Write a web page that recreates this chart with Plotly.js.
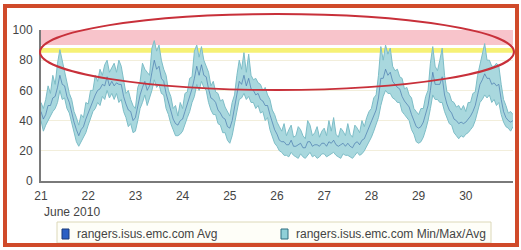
<!DOCTYPE html>
<html><head><meta charset="utf-8">
<script src="https://cdn.plot.ly/plotly-3.0.1.min.js"></script>
<style>html,body{margin:0;padding:0;background:#fff}#chart{width:521px;height:250px}</style>
</head><body><div id="chart"></div>
<script>
// ---- data ----
const day = [
  21.00,21.05,21.10,21.15,21.20,21.25,21.30,21.35,21.40,21.45,21.50,21.55,21.60,21.65,21.70,21.75,21.80,21.85,21.90,21.95,
  22.00,22.05,22.10,22.15,22.20,22.25,22.30,22.35,22.40,22.45,22.50,22.55,22.60,22.65,22.70,22.75,22.80,22.85,22.90,22.95,
  23.00,23.05,23.10,23.15,23.20,23.25,23.30,23.35,23.40,23.45,23.50,23.55,23.60,23.65,23.70,23.75,23.80,23.85,23.90,23.95,
  24.00,24.05,24.10,24.15,24.20,24.25,24.30,24.35,24.40,24.45,24.50,24.55,24.60,24.65,24.70,24.75,24.80,24.85,24.90,24.95,
  25.00,25.05,25.10,25.15,25.20,25.25,25.30,25.35,25.40,25.45,25.50,25.55,25.60,25.65,25.70,25.75,25.80,25.85,25.90,25.95,
  26.00,26.05,26.10,26.15,26.20,26.25,26.30,26.35,26.40,26.45,26.50,26.55,26.60,26.65,26.70,26.75,26.80,26.85,26.90,26.95,
  27.00,27.05,27.10,27.15,27.20,27.25,27.30,27.35,27.40,27.45,27.50,27.55,27.60,27.65,27.70,27.75,27.80,27.85,27.90,27.95,
  28.00,28.05,28.10,28.15,28.20,28.25,28.30,28.35,28.40,28.45,28.50,28.55,28.60,28.65,28.70,28.75,28.80,28.85,28.90,28.95,
  29.00,29.05,29.10,29.15,29.20,29.25,29.30,29.35,29.40,29.45,29.50,29.55,29.60,29.65,29.70,29.75,29.80,29.85,29.90,29.95,
  30.00,30.05,30.10,30.15,30.20,30.25,30.30,30.35,30.40,30.45,30.50,30.55,30.60,30.65,30.70,30.75,30.80,30.85,30.90,30.95,
  31.00];
const minVal = [
  40,33,37,40,44,46,48,52,60,54, 55,48,45,38,32,26,23,26,29,32,
  37,42,46,48,52,50,56,54,60,55, 58,54,58,52,54,46,42,36,38,32,
  33,40,48,52,57,50,55,60,67,62, 64,58,57,48,44,38,34,30,30,31,
  33,38,42,46,52,56,64,60,66,62, 60,52,47,44,44,38,37,32,32,27,
  25,30,38,46,54,55,58,54,56,52, 52,48,50,45,46,40,42,34,30,25,
  23,20,19,17,17,16,19,17,16,15, 18,16,15,17,19,16,17,15,16,18,
  18,16,17,18,19,17,16,15,18,17, 17,16,15,17,19,17,18,20,23,25,
  29,33,37,42,50,56,60,58,58,55, 54,52,52,46,44,42,40,34,31,26,
  25,26,29,34,40,48,57,54,54,52, 52,46,42,38,37,32,30,28,30,29,
  31,32,34,36,40,46,52,54,57,55, 57,52,54,50,52,44,39,36,35,33,
  36];
const maxVal = [
  52,48,54,63,58,70,64,78,87,80, 72,66,58,54,46,42,37,44,42,52,
  51,60,60,70,66,74,70,77,80,72, 75,78,72,80,76,66,58,60,54,50,
  48,62,66,78,74,72,70,88,93,86, 90,80,74,70,60,56,48,50,43,52,
  48,58,59,68,69,86,90,82,89,80, 76,72,63,66,59,58,53,54,49,46,
  43,52,57,70,80,74,85,72,84,70, 67,68,65,64,60,62,57,54,47,44,
  39,36,33,38,30,34,37,29,30,36, 34,30,28,40,37,30,32,36,29,33,
  35,30,40,33,42,31,29,35,33,30, 38,31,29,37,35,32,40,36,42,46,
  48,55,57,70,89,80,90,84,88,76, 73,74,69,68,61,62,57,55,48,46,
  44,48,48,56,60,78,89,76,73,80, 88,70,59,58,53,52,49,50,47,50,
  46,52,52,58,59,70,77,84,91,80, 80,76,76,78,76,64,54,50,45,46,
  44];
const avgVal = [
  46,41,44,50,50,55,56,62,70,64, 63,56,52,45,39,34,30,34,36,41,
  45,50,54,57,60,61,64,63,69,63, 66,63,65,64,64,56,51,47,46,40,
  42,50,57,62,66,60,63,72,80,74, 76,68,66,58,52,46,41,38,37,40,
  41,46,51,56,61,68,76,70,77,70, 69,61,55,54,52,47,45,42,41,36,
  35,40,48,56,66,64,70,63,68,61, 60,57,58,54,53,50,50,44,39,34,
  31,27,26,26,24,24,27,23,23,24, 25,22,22,26,26,23,24,24,23,25,
  25,23,26,25,27,24,23,24,25,23, 25,23,22,25,26,24,27,28,32,35,
  39,43,47,55,68,68,74,70,72,66, 64,62,61,56,53,51,49,44,40,36,
  35,36,39,44,50,60,72,64,64,64, 69,57,51,47,45,41,40,38,39,38,
  39,41,43,46,50,57,64,67,71,68, 68,64,65,63,64,54,46,42,40,39,
  40];
const xTicks = [21,22,23,24,25,26,27,28,29,30];
const yTicks = [0,20,40,60,80,100];
const seriesNames = ["rangers.isus.emc.com Avg","rangers.isus.emc.com Min/Max/Avg"];
const periodLabel = "June 2010";

// ---- layout helpers (pixel -> paper) ----
const L=41, R=513, T=30, B=181;
const fx = p => (p-L)/(R-L);
const fy = p => (B-p)/(B-T);
const font = {family:"Liberation Sans, Arial, sans-serif", size:12, color:"#444"};
const tealFill = "#a9d8de", tealLine = "#7dbdc7", blue = "#3b6aa6";

const traces = [
  {x:day, y:minVal, type:"scatter", mode:"lines", line:{color:tealLine, width:1}, showlegend:false, hoverinfo:"skip"},
  {x:day, y:maxVal, type:"scatter", mode:"lines", fill:"tonexty", fillcolor:tealFill, line:{color:tealLine, width:1}, showlegend:false, name:seriesNames[1]},
  {x:day, y:avgVal, type:"scatter", mode:"lines", line:{color:blue, width:1}, opacity:0.6, showlegend:false, name:seriesNames[0]}
];

const layout = {
  width:521, height:250,
  margin:{l:L, r:521-R, t:T, b:250-B},
  paper_bgcolor:"#fff", plot_bgcolor:"#fff",
  font:font,
  showlegend:false,
  xaxis:{range:[21,31], tickvals:xTicks, ticktext:xTicks.map(String), showgrid:false, zeroline:false,
    showline:true, linecolor:"#7a7a7a", linewidth:2, ticks:"outside", ticklen:3, tickcolor:"rgba(0,0,0,0)", tickfont:font},
  yaxis:{range:[0,100], tickvals:yTicks, ticktext:yTicks.map(String), showgrid:true, gridcolor:"#f2eedb", zeroline:false,
    showline:true, linecolor:"#7a7a7a", linewidth:2, ticks:"outside", ticklen:4, tickcolor:"rgba(0,0,0,0)", tickfont:font},
  shapes:[
    {type:"rect", xref:"x", yref:"y", x0:21, x1:31, y0:90, y1:100, fillcolor:"#f8c4cb", line:{width:0}, layer:"below"},
    {type:"rect", xref:"x", yref:"y", x0:21, x1:31, y0:85, y1:88, fillcolor:"#f6f176", line:{width:0}, layer:"below"},
    {type:"circle", xref:"paper", yref:"paper", x0:fx(40), x1:fx(514), y0:fy(90), y1:fy(14), line:{color:"#c8303a", width:2}},
    {type:"rect", xref:"paper", yref:"paper", x0:fx(57), x1:fx(491), y0:fy(243), y1:fy(222), fillcolor:"#fefef8", line:{color:"#dcd8b8", width:1}},
    {type:"rect", xref:"paper", yref:"paper", x0:fx(62), x1:fx(69), y0:fy(239), y1:fy(229), fillcolor:"#2b5fc4", line:{color:"#1a3a7a", width:1}},
    {type:"rect", xref:"paper", yref:"paper", x0:fx(281), x1:fx(288), y0:fy(239), y1:fy(229), fillcolor:"#8fd0d8", line:{color:"#2f6f80", width:1}},
    {type:"rect", xref:"paper", yref:"paper", x0:fx(5), x1:fx(517), y0:fy(245), y1:fy(6), line:{color:"#d04a2a", width:4}}
  ],
  annotations:[
    {xref:"paper", yref:"paper", x:fx(42), y:fy(212), xanchor:"left", yanchor:"middle", text:periodLabel, showarrow:false, font:font},
    {xref:"paper", yref:"paper", x:fx(75), y:fy(234), xanchor:"left", yanchor:"middle", text:seriesNames[0], showarrow:false, font:font},
    {xref:"paper", yref:"paper", x:fx(294), y:fy(234), xanchor:"left", yanchor:"middle", text:seriesNames[1], showarrow:false, font:font}
  ]
};
Plotly.newPlot("chart", traces, layout, {staticPlot:true, displayModeBar:false});
</script></body></html>
